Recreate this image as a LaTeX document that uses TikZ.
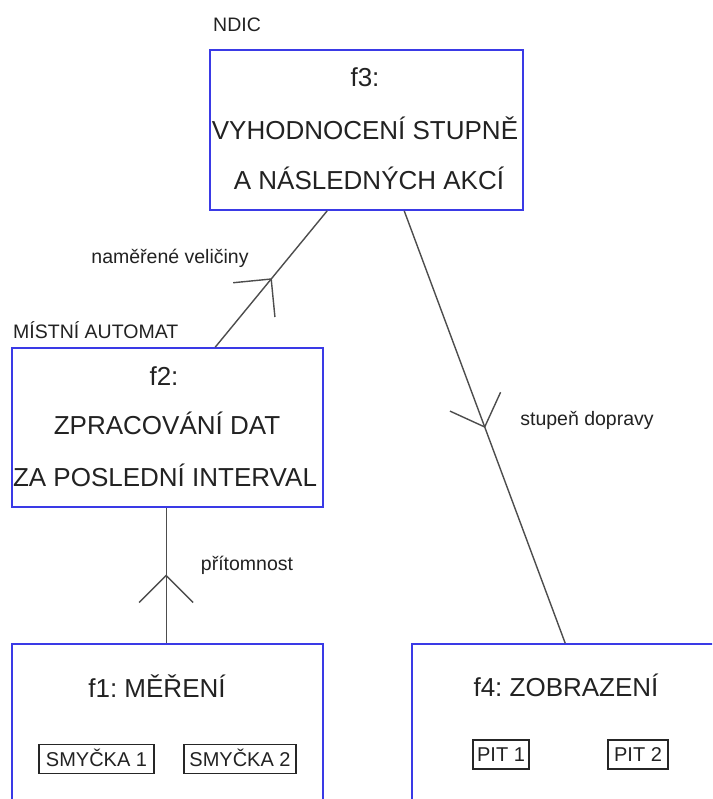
\documentclass[tikz,border=0pt]{standalone}
\usepackage{fontspec}
\setmainfont{Liberation Sans}
\usetikzlibrary{calc,decorations.markings}
\definecolor{boxblue}{HTML}{3A3AE6}
\definecolor{ink}{HTML}{222222}
\definecolor{wire}{HTML}{4D4D4D}
\frenchspacing
\tikzset{
  bigtext/.style={font=\fontsize{26}{30}\selectfont, text=ink, inner sep=0pt, anchor=base},
  smalltext/.style={font=\fontsize{19.5}{23}\selectfont, text=ink, inner sep=0pt, anchor=base},
  funcbox/.style={draw=boxblue, line width=1.6pt, inner sep=0pt, rectangle},
  partbox/.style={draw=black!85, line width=1.2pt, inner sep=0pt, rectangle,
    font=\fontsize{20}{24}\selectfont, text=ink, text height=14.3pt, text depth=0pt, align=center},
  flow/.style={draw=wire, line width=1.4pt},
  midbarb/.style={postaction=decorate, decoration={markings,
    mark=at position 0.5 with {\draw[wire, line width=1.4pt] (-27pt,27pt) -- (0pt,0pt) -- (-27pt,-27pt);}}},
}
\begin{document}
\begin{tikzpicture}[x=1pt,y=-1pt]
  \useasboundingbox (0,0) rectangle (712,799);
  \fill[white] (0,0) rectangle (712,799);
  \clip (0,0) rectangle (712,799);

  % function blocks (f1 and f4 run past the lower/right border)
  \node[funcbox, minimum width=313pt, minimum height=160pt] (f3) at (366.5,130) {};
  \node[funcbox, minimum width=311pt, minimum height=159pt] (f2) at (167.5,427.5) {};
  \node[funcbox, minimum width=311pt, minimum height=190pt] (f1) at (167.5,739) {};
  \node[funcbox, minimum width=330pt, minimum height=190pt] (f4) at (577,739) {};

  % block captions
  \node[smalltext] (ndic) at (237,32) {NDIC};
  \node[bigtext] (f3a) at (365,87) {f3:};
  \node[bigtext] (f3b) at (365,140) {VYHODNOCENÍ STUPNĚ};
  \node[bigtext] (f3c) at (369,190) {A NÁSLEDNÝCH AKCÍ};

  \node[smalltext, anchor=base west] (mistni) at (13,338) {MÍSTNÍ AUTOMAT};
  \node[bigtext] (f2a) at (164,385) {f2:};
  \node[bigtext] (f2b) at (167,434) {ZPRACOVÁNÍ DAT};
  \node[bigtext] (f2c) at (165,486) {ZA POSLEDNÍ INTERVAL};

  \node[bigtext] (f1a) at (157,697) {f1: MĚŘENÍ};
  \node[bigtext] (f4a) at (566,696) {f4: ZOBRAZENÍ};

  % inner parts
  \node[partbox, minimum width=115pt, minimum height=29pt] (s1) at (96.5,759) {SMYČKA 1};
  \node[partbox, minimum width=112pt, minimum height=29pt] (s2) at (240,759) {SMYČKA 2};
  \node[partbox, minimum width=56pt, minimum height=29pt] (p1) at (501,754.5) {PIT 1};
  \node[partbox, minimum width=60pt, minimum height=29pt] (p2) at (638,754.5) {PIT 2};

  % data flows
  \draw[flow, midbarb] ($(f2.north west)+(204,0)$) -- ($(f3.south west)+(118,0)$);
  \draw[flow, midbarb] ($(f1.north west)+(155,0)$) -- ($(f2.south west)+(155,0)$);
  \draw[flow, midbarb] ($(f3.south west)+(195,0)$) -- ($(f4.north west)+(154,0)$);

  % flow labels
  \node[smalltext] (lmer) at (170,263) {naměřené veličiny};
  \node[smalltext] (lpri) at (247,570) {přítomnost};
  \node[smalltext] (lstu) at (587,425) {stupeň dopravy};
\end{tikzpicture}
\end{document}
